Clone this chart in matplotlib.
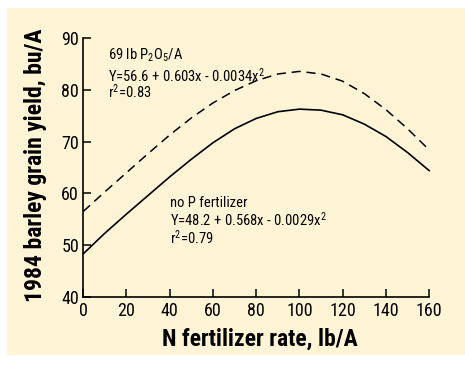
import matplotlib
matplotlib.use('Agg')
from matplotlib import pyplot as plt
from matplotlib.patches import Rectangle

# values
n_rate = [0, 10, 20, 30, 40, 50, 60, 70, 80, 90, 100, 110, 120, 130, 140, 150, 160]
yield_p = [56.5, 60.3, 64.0, 67.7, 71.3, 74.6, 77.5, 79.9, 81.8, 83.1, 83.6,
           83.1, 81.7, 79.3, 76.2, 72.5, 68.4]
yield_no_p = [48.3, 52.3, 56.0, 59.6, 63.2, 66.6, 69.8, 72.5, 74.5, 75.8, 76.3,
              76.1, 75.2, 73.4, 71.0, 67.9, 64.4]
x_ticks = [0, 20, 40, 60, 80, 100, 120, 140, 160]
y_ticks = [40, 50, 60, 70, 80, 90]

FONT = 'Roboto Condensed'
BG = '#fff5d6'

plt.rcParams['font.family'] = [FONT, 'DejaVu Sans']
plt.rcParams['mathtext.fontset'] = 'custom'
plt.rcParams['mathtext.rm'] = FONT
plt.rcParams['mathtext.it'] = FONT
plt.rcParams['mathtext.default'] = 'regular'

fig = plt.figure(figsize=(4.65, 3.65), dpi=100)
fig.patch.set_facecolor('white')
# yellow panel behind the chart
fig.patches.append(Rectangle((7 / 465, 10 / 365), 458 / 465, 347 / 365,
                             transform=fig.transFigure, facecolor=BG,
                             edgecolor='none', zorder=-10))

ax = fig.add_axes([0.179, 0.187, 0.744, 0.708])
ax.set_facecolor('none')

ax.plot(n_rate, yield_p, color='black', lw=1.1, dashes=(6, 3.8), clip_on=False)
ax.plot(n_rate, yield_no_p, color='black', lw=1.2, clip_on=False)

ax.set_xlim(0, 160)
ax.set_ylim(40, 90)
ax.set_xticks(x_ticks)
ax.set_yticks(y_ticks)
for s in ['top', 'right']:
    ax.spines[s].set_visible(False)
for s in ['left', 'bottom']:
    ax.spines[s].set_linewidth(1.2)
ax.tick_params(direction='in', length=6, width=1.1, labelsize=13)
ax.tick_params(axis='x', pad=4)
ax.tick_params(axis='y', pad=3)

ax.set_xlabel('N fertilizer rate, lb/A', fontsize=17, fontweight='bold')
ax.set_ylabel('1984 barley grain yield, bu/A', fontsize=17, fontweight='bold')
ax.xaxis.set_label_coords(0.512, -0.12)
ax.yaxis.set_label_coords(-0.105, 0.508)

ts = 10.5
ax.text(11.4, 86.7, '69 lb P$_2$O$_5$/A', fontsize=ts, va='center')
ax.text(11.4, 82.8, 'Y=56.6 + 0.603x - 0.0034x$^2$', fontsize=ts, va='center')
ax.text(11.4, 79.7, 'r$^2$=0.83', fontsize=ts, va='center')
ax.text(40.1, 58.1, 'no P fertilizer', fontsize=ts, va='center')
ax.text(40.1, 54.9, 'Y=48.2 + 0.568x - 0.0029x$^2$', fontsize=ts, va='center')
ax.text(40.1, 51.5, 'r$^2$=0.79', fontsize=ts, va='center')

fig.savefig('out.png', dpi=100)
